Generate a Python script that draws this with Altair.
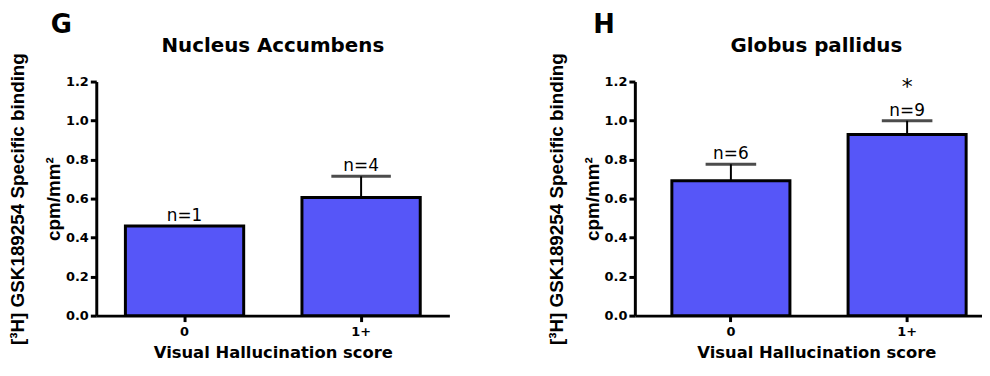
import altair as alt
import pandas as pd

# ---- data ----
categories = ["0", "1+"]

nac_mean = [0.46, 0.606]
nac_err = [0.0, 0.108]
nac_n = ["n=1", "n=4"]
nac_sig = ["", ""]

gp_mean = [0.691, 0.928]
gp_err = [0.085, 0.071]
gp_n = ["n=6", "n=9"]
gp_sig = ["", "*"]

y_ticks = [0.0, 0.2, 0.4, 0.6, 0.8, 1.0, 1.2]

BAR = "#5656F8"
HFONT = "DejaVu Sans"
YFONT = "Liberation Sans"
H = 236


def panel(letter, title, means, errs, ns, sig, width, cap, pad_outer, align,
          title_x, letter_x):
    df = pd.DataFrame({"cat": categories, "mean": means, "err": errs,
                       "n": ns, "sig": sig})
    df["top"] = df["mean"] + df["err"]

    xaxis = alt.Axis(title="Visual Hallucination score", labelAngle=0,
                     titleX=title_x, grid=False, labelOverlap=False)
    yaxis = alt.Axis(title=["[³H] GSK189254 Specific binding", "cpm/mm²"],
                     values=y_ticks, format=".1f", grid=False,
                     labelOverlap=False)
    xscale = alt.Scale(paddingInner=0.33, paddingOuter=pad_outer, align=align)
    yscale = alt.Scale(domain=[0, 1.2], nice=False, zero=True)

    def X():
        return alt.X("cat:N", sort=categories, scale=xscale, axis=xaxis)

    def Y(f):
        return alt.Y(f, scale=yscale, axis=yaxis)

    base = alt.Chart(df)
    bars = base.mark_bar(fill=BAR, stroke="black", strokeWidth=3).encode(
        x=X(), y=Y("mean:Q"))
    errdf = base.transform_filter("datum.err > 0")
    rule = errdf.mark_rule(color="black", strokeWidth=2).encode(
        x=X(), y=Y("mean:Q"), y2="top:Q")
    capm = errdf.mark_tick(orient="horizontal", size=cap, thickness=3,
                           color="black").encode(x=X(), y=Y("top:Q"))
    ntext = base.mark_text(font=HFONT, fontSize=17, color="black",
                           baseline="alphabetic", dy=-5).encode(
        x=X(), y=Y("top:Q"), text="n:N")
    sigtext = base.mark_text(font=HFONT, fontSize=22, color="black",
                             baseline="alphabetic", dy=-27).encode(
        x=X(), y=Y("top:Q"), text="sig:N")

    let = alt.Chart(pd.DataFrame({"t": [letter]})).mark_text(
        font=HFONT, fontSize=26, fontWeight="bold", color="black",
        align="left", baseline="alphabetic").encode(
        text="t:N", x=alt.value(letter_x), y=alt.value(-49))
    ttl = alt.Chart(pd.DataFrame({"t": [title]})).mark_text(
        font=HFONT, fontSize=20, fontWeight="bold", color="black",
        align="center", baseline="alphabetic").encode(
        text="t:N", x=alt.value(title_x), y=alt.value(-30))

    return alt.layer(bars, rule, capm, ntext, sigtext, let, ttl).properties(
        width=width, height=H)


left = panel("G", "Nucleus Accumbens", nac_mean, nac_err, nac_n, nac_sig,
             356, 60, 0.165, 0.5, 178, -46)
right = panel("H", "Globus pallidus", gp_mean, gp_err, gp_n, gp_sig,
              350, 51, 0.15, 0.7, 183, -42)

chart = alt.hconcat(left, right, spacing=98).properties(
    padding={"top": 2.7, "left": 0, "right": 0, "bottom": 0},
    background="white"
).configure_view(stroke=None).configure_axis(
    labelFont=HFONT, labelFontSize=13, labelFontWeight="bold",
    labelColor="black",
    domainColor="black", domainWidth=3,
    tickColor="black", tickWidth=3, tickSize=6,
).configure_axisX(
    labelPadding=4,
    titleFont=HFONT, titleFontSize=16.5, titleFontWeight="bold",
    titleColor="black", titlePadding=6.5,
).configure_axisY(
    labelPadding=2,
    titleFont=YFONT, titleFontSize=19, titleFontWeight="bold",
    titleColor="black", titleLineHeight=36, titlePadding=2,
)

chart.save("out.html", embed_options={"renderer": "svg", "actions": False})
